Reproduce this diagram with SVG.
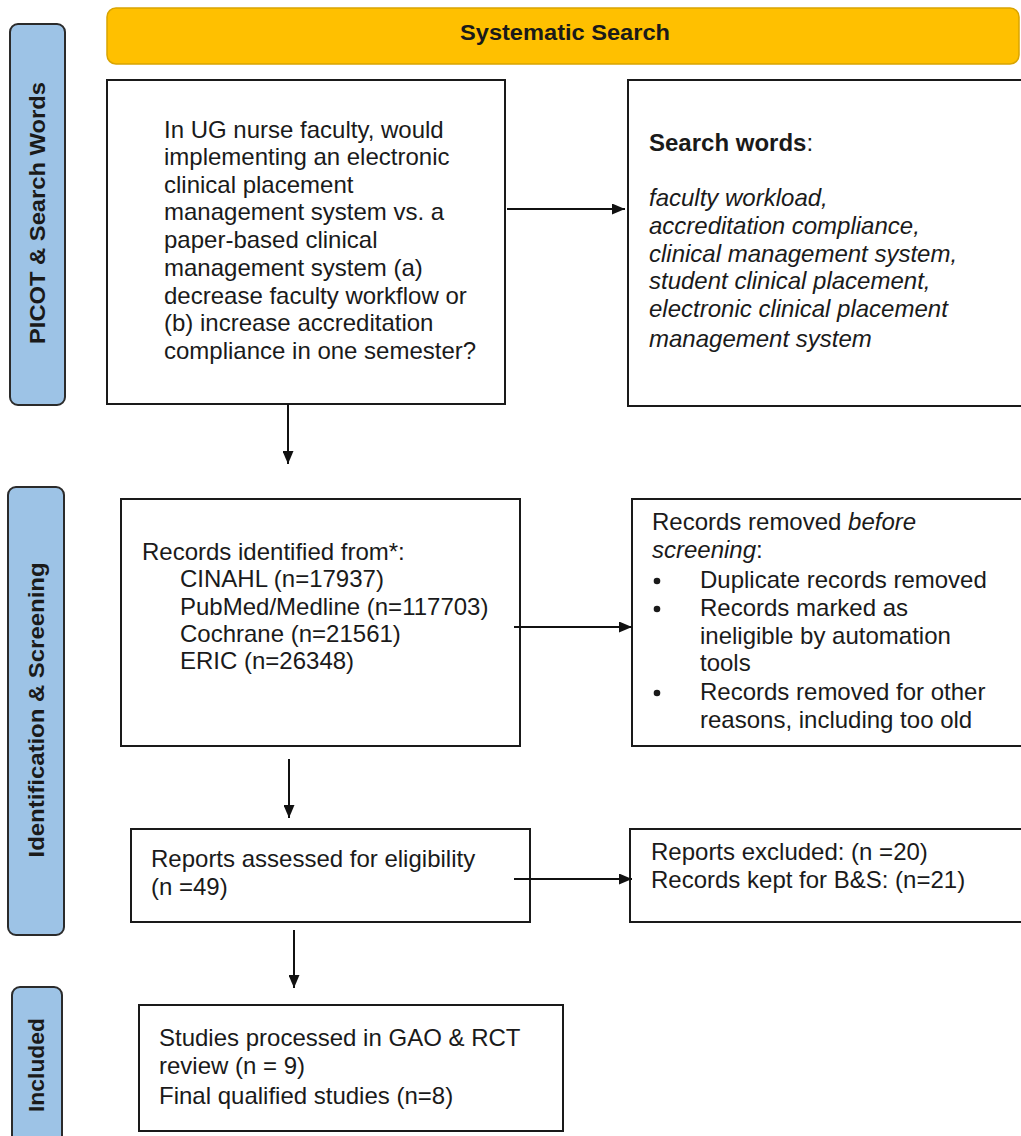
<svg xmlns="http://www.w3.org/2000/svg" width="1021" height="1136" viewBox="0 0 1021 1136">
<style>
.box{fill:#fff;stroke:#1a1a1a;stroke-width:2}
.side{fill:#9DC3E6;stroke:#2b2b2b;stroke-width:2}
.t{font-family:"Liberation Sans",Arial,sans-serif;font-size:24px;fill:#1a1a1a}
.side-t{font-family:"Liberation Sans",Arial,sans-serif;font-size:22px;font-weight:bold;fill:#1a1a1a}
.title{font-family:"Liberation Sans",Arial,sans-serif;font-size:22px;font-weight:bold;fill:#1a1a1a}
.conn{stroke:#111;stroke-width:2;fill:none;marker-end:url(#arr)}
</style>
<defs>
<marker id="arr" viewBox="0 0 13 11" refX="13" refY="5.5" markerWidth="13" markerHeight="11" markerUnits="userSpaceOnUse" orient="auto">
<path d="M0,0 L13,5.5 L0,11 Z" fill="#111"/>
</marker>
</defs>
<rect width="1021" height="1136" fill="#fff"/>

<g id="header">
<rect x="107" y="8" width="912" height="56" rx="9" fill="#FFC000" stroke="#D9A400" stroke-width="1.5"/>
<text class="title" x="565" y="40" text-anchor="middle" textLength="210" lengthAdjust="spacingAndGlyphs">Systematic Search</text>
</g>

<g id="side-picot">
<rect class="side" x="10" y="24" width="55" height="381" rx="8"/>
<text class="side-t" transform="translate(45,213) rotate(-90)" text-anchor="middle" textLength="262" lengthAdjust="spacingAndGlyphs">PICOT &amp; Search Words</text>
</g>

<g id="side-ident">
<rect class="side" x="8" y="487" width="56" height="448" rx="8"/>
<text class="side-t" transform="translate(44,710) rotate(-90)" text-anchor="middle" textLength="295" lengthAdjust="spacingAndGlyphs">Identification &amp; Screening</text>
</g>

<g id="side-included">
<rect class="side" x="12" y="987" width="50" height="160" rx="8"/>
<text class="side-t" transform="translate(44,1065) rotate(-90)" text-anchor="middle" textLength="94" lengthAdjust="spacingAndGlyphs">Included</text>
</g>

<g id="picot">
<rect class="box" x="107" y="80" width="398" height="324"/>
<text class="t">
<tspan x="164" y="138">In UG nurse faculty, would</tspan>
<tspan x="164" y="165">implementing an electronic</tspan>
<tspan x="164" y="193">clinical placement</tspan>
<tspan x="164" y="220">management system vs. a</tspan>
<tspan x="164" y="248">paper-based clinical</tspan>
<tspan x="164" y="276">management system (a)</tspan>
<tspan x="164" y="304">decrease faculty workflow or</tspan>
<tspan x="164" y="331">(b) increase accreditation</tspan>
<tspan x="164" y="359">compliance in one semester?</tspan>
</text>
</g>

<g id="search-words">
<rect class="box" x="628" y="80" width="400" height="326"/>
<text class="t" x="649" y="151"><tspan font-weight="bold">Search words</tspan>:</text>
<text class="t" font-style="italic">
<tspan x="649" y="206">faculty workload,</tspan>
<tspan x="649" y="234">accreditation compliance,</tspan>
<tspan x="649" y="262">clinical management system,</tspan>
<tspan x="649" y="289">student clinical placement,</tspan>
<tspan x="649" y="317">electronic clinical placement</tspan>
<tspan x="649" y="347">management system</tspan>
</text>
</g>

<g id="records-identified">
<rect class="box" x="121" y="499" width="399" height="247"/>
<text class="t">
<tspan x="142" y="560">Records identified from*:</tspan>
<tspan x="180" y="587">CINAHL (n=17937)</tspan>
<tspan x="180" y="615">PubMed/Medline (n=117703)</tspan>
<tspan x="180" y="642">Cochrane (n=21561)</tspan>
<tspan x="180" y="669">ERIC (n=26348)</tspan>
</text>
</g>

<g id="records-removed">
<rect class="box" x="632" y="499" width="396" height="247"/>
<text class="t">
<tspan x="652" y="530">Records removed <tspan font-style="italic">before</tspan></tspan>
<tspan x="652" y="558"><tspan font-style="italic">screening</tspan>:</tspan>
<tspan x="700" y="588">Duplicate records removed</tspan>
<tspan x="700" y="616">Records marked as</tspan>
<tspan x="700" y="644">ineligible by automation</tspan>
<tspan x="700" y="671">tools</tspan>
<tspan x="700" y="700">Records removed for other</tspan>
<tspan x="700" y="728">reasons, including too old</tspan>
</text>
<circle cx="657" cy="581" r="3.3" fill="#1a1a1a"/>
<circle cx="657" cy="609" r="3.3" fill="#1a1a1a"/>
<circle cx="657" cy="693" r="3.3" fill="#1a1a1a"/>
</g>

<g id="reports-assessed">
<rect class="box" x="131" y="829" width="399" height="93"/>
<text class="t">
<tspan x="151" y="867">Reports assessed for eligibility</tspan>
<tspan x="151" y="895">(n =49)</tspan>
</text>
</g>

<g id="reports-excluded">
<rect class="box" x="630" y="829" width="398" height="93"/>
<text class="t">
<tspan x="651" y="860">Reports excluded: (n =20)</tspan>
<tspan x="651" y="888">Records kept for B&amp;S: (n=21)</tspan>
</text>
</g>

<g id="studies-included">
<rect class="box" x="139" y="1005" width="424" height="126"/>
<text class="t">
<tspan x="159" y="1046">Studies processed in GAO &amp; RCT</tspan>
<tspan x="159" y="1074">review (n = 9)</tspan>
<tspan x="159" y="1104">Final qualified studies (n=8)</tspan>
</text>
</g>

<g id="connectors">
<line class="conn" x1="507" y1="209" x2="625" y2="209"/>
<line class="conn" x1="288" y1="404" x2="288" y2="464"/>
<line class="conn" x1="514" y1="627" x2="632" y2="627"/>
<line class="conn" x1="289" y1="759" x2="289" y2="818"/>
<line class="conn" x1="514" y1="879" x2="632" y2="879"/>
<line class="conn" x1="294" y1="930" x2="294" y2="988"/>
</g>
</svg>
